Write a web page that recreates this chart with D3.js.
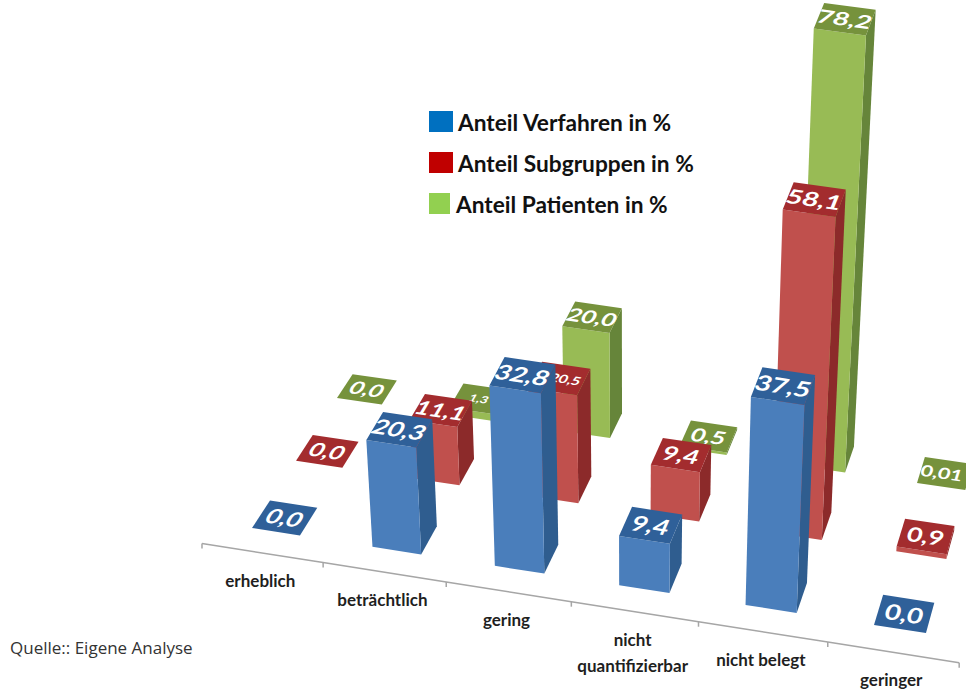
<!DOCTYPE html>
<html>
<head>
<meta charset="utf-8">
<script src="https://cdn.jsdelivr.net/npm/d3@7"></script>
<style>
  html, body { margin: 0; padding: 0; background: #fff; }
  svg { display: block; }
  text { font-family: Lato, sans-serif; }
</style>
</head>
<body>
<svg class="chart" width="966" height="690"></svg>
<script>
const categories = ['erheblich', 'beträchtlich', 'gering', 'nicht quantifizierbar', 'nicht belegt', 'geringer'];
const seriesNames = ['Anteil Verfahren in %', 'Anteil Subgruppen in %', 'Anteil Patienten in %'];
const verfahren = [0.0, 20.3, 32.8, 9.4, 37.5, 0.0];
const subgruppen = [0.0, 11.1, 20.5, 9.4, 58.1, 0.9];
const patienten = [0.0, 1.3, 20.0, 0.5, 78.2, 0.01];
const seriesValues = [verfahren, subgruppen, patienten];

const faceColors = [
  { front: '#4a7ebb', side: '#2f5d8f', top: '#2f6099', legend: '#0070c0' },
  { front: '#c0504d', side: '#8c2a2a', top: '#a32c2e', legend: '#c00000' },
  { front: '#98bb55', side: '#66853a', top: '#76923c', legend: '#92d050' }
];

// ground plane: perspective map from the unit square onto the picture
function homography(p) {
  const [p0, p1, p2, p3] = p;
  const sx = p0[0] - p1[0] + p2[0] - p3[0], sy = p0[1] - p1[1] + p2[1] - p3[1];
  const dx1 = p1[0] - p2[0], dx2 = p3[0] - p2[0], dy1 = p1[1] - p2[1], dy2 = p3[1] - p2[1];
  const den = dx1 * dy2 - dx2 * dy1;
  const g = (sx * dy2 - dx2 * sy) / den, h = (dx1 * sy - sx * dy1) / den;
  const a = p1[0] - p0[0] + g * p1[0], b = p3[0] - p0[0] + h * p3[0];
  const d = p1[1] - p0[1] + g * p1[1], e = p3[1] - p0[1] + h * p3[1];
  return (u, v) => {
    const w = g * u + h * v + 1;
    return [(a * u + b * v + p0[0]) / w, (d * u + e * v + p0[1]) / w];
  };
}
const ground = homography([[252, 528], [874, 625], [917, 483], [337, 398]]);

const uScale = d3.scaleBand().domain(categories).range([-0.06, 1.14]).paddingInner(0.6).paddingOuter(0.3);
const vScale = d3.scaleBand().domain(seriesNames).range([-0.15, 1.35]).paddingInner(0.6).paddingOuter(0.3);

// height on screen grows a little faster near the camera
const heightScale = d3.scaleLinear()
  .domain([0, 20, 37.5, 58.1, 78.2])
  .range([0, 105, 208, 323, 437]);

// verticals lean away from a vanishing point far below the chart
const vanishX = 630, vanishDist = 4500;
function project(u, v, value) {
  const [x, y] = ground(u, v);
  const h = heightScale(value);
  return [x + (x - vanishX) * h / vanishDist, y - h];
}

const svg = d3.select('svg.chart');
const polygon = d3.line();

seriesNames.map((name, s) => s).reverse().forEach(s => {
  const colors = faceColors[s];
  const v0 = vScale(seriesNames[s]);
  const v1 = v0 + vScale.bandwidth();

  const bars = svg.append('g').selectAll('.bar')
    .data(seriesValues[s].map((value, i) => ({ value, name: categories[i] })))
    .enter()
    .append('g')
    .attr('class', 'bar');

  bars.each(function (d) {
    const u0 = uScale(d.name);
    const u1 = u0 + uScale.bandwidth();
    const g = d3.select(this);
    const fl = project(u0, v0, d.value), fr = project(u1, v0, d.value);
    const bl = project(u0, v1, d.value), br = project(u1, v1, d.value);

    g.append('path')
      .attr('d', polygon([project(u1, v0, 0), project(u1, v1, 0), br, fr]) + 'Z')
      .attr('fill', colors.side);
    g.append('path')
      .attr('d', polygon([project(u0, v0, 0), project(u1, v0, 0), fr, fl]) + 'Z')
      .attr('fill', colors.front);
    g.append('path')
      .attr('d', polygon([fl, fr, br, bl]) + 'Z')
      .attr('fill', colors.top);

    // label lies flat on the top face
    const cx = (fl[0] + br[0]) / 2, cy = (fl[1] + br[1]) / 2;
    const m = [(fr[0] - fl[0]) / 48, (fr[1] - fl[1]) / 48, (fl[0] - bl[0]) / 36, (fl[1] - bl[1]) / 36, cx, cy];
    const label = d.value > 0 && d.value < 0.1 ? d.value.toFixed(2) : d.value.toFixed(1);
    // a few labels are squeezed in the original
    let size = 25, shift = 0;
    if (d.value === 20.5) { size = 15; shift = 6; }
    if (d.value === 1.3) { size = 14; }
    if (d.value === 0.01) { size = 21; shift = -3; }
    g.append('text')
      .attr('transform', `matrix(${m.join(',')})`)
      .attr('text-anchor', 'middle')
      .attr('x', shift)
      .attr('dy', '0.36em')
      .attr('font-size', size)
      .attr('font-weight', 700)
      .attr('fill', '#fff')
      .text(label.replace('.', ','));
  });
});

// category axis on the floor
const axisV = vScale.range()[0];
const tickU = d3.range(categories.length + 1).map(i => uScale.range()[0] + i * uScale.step());
svg.append('path')
  .attr('d', polygon(tickU.map(u => project(u, axisV, 0))))
  .attr('fill', 'none')
  .attr('stroke', '#a6a6a6')
  .attr('stroke-width', 1.5);
svg.selectAll('.tick')
  .data(tickU)
  .enter()
  .append('line')
  .attr('class', 'tick')
  .attr('x1', d => project(d, axisV, 0)[0])
  .attr('x2', d => project(d, axisV, 0)[0])
  .attr('y1', d => project(d, axisV, 0)[1])
  .attr('y2', d => project(d, axisV, 0)[1] + 5)
  .attr('stroke', '#a6a6a6')
  .attr('stroke-width', 1.5);

const catLabels = svg.selectAll('.cat')
  .data(categories)
  .enter()
  .append('text')
  .attr('class', 'cat')
  .attr('text-anchor', 'middle')
  .attr('font-size', 17)
  .attr('font-weight', 700)
  .attr('fill', '#1f1f1f')
  .attr('transform', d => {
    const p = project(uScale(d) + uScale.bandwidth() / 2, axisV, 0);
    return `translate(${p[0] - 2},${p[1] + 34})`;
  });
catLabels.filter(d => d !== 'nicht quantifizierbar').text(d => d);
catLabels.filter(d => d === 'nicht quantifizierbar')
  .selectAll('tspan')
  .data(d => d.split(' '))
  .enter()
  .append('tspan')
  .attr('x', 0)
  .attr('y', (d, i) => i * 26)
  .text(d => d);

// legend
const legendY = d3.scalePoint().domain(seriesNames).range([121, 203]);
const legend = svg.selectAll('.legend')
  .data(seriesNames)
  .enter()
  .append('g')
  .attr('class', 'legend')
  .attr('transform', d => `translate(429,${legendY(d)})`);
legend.append('rect')
  .attr('y', -10)
  .attr('width', (d, i) => i === 2 ? 21 : 24)
  .attr('height', 21)
  .attr('fill', (d, i) => faceColors[i].legend);
legend.append('text')
  .attr('x', (d, i) => i === 2 ? 27 : 29)
  .attr('y', 10)
  .attr('font-size', 22.7)
  .attr('font-weight', 700)
  .attr('fill', '#111')
  .text(d => d);

svg.append('text')
  .attr('x', 10)
  .attr('y', 654)
  .attr('font-size', 17)
  .attr('fill', '#333')
  .style('font-family', '"Open Sans", sans-serif')
  .text('Quelle:: Eigene Analyse');
</script>
</body>
</html>
